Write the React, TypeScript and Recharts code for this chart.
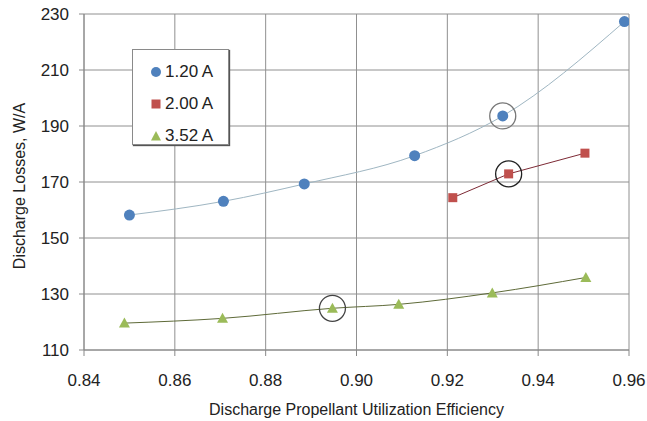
import React from 'react';
import { ComposedChart, Line, XAxis, YAxis, CartesianGrid, ReferenceDot } from 'recharts';

const seriesNames = ['1.20 A', '2.00 A', '3.52 A'];
const seriesColors = ['#4f81bd', '#c0504d', '#9bbb59'];
const trendColors = ['#9fb6c2', '#7d2a35', '#5e6a38'];

const x120 = [0.85, 0.8707, 0.8885, 0.9128, 0.9322, 0.959];
const y120 = [158.2, 163.1, 169.3, 179.4, 193.6, 227.3];
const x200 = [0.9212, 0.9335, 0.9503];
const y200 = [164.4, 172.9, 180.3];
const x352 = [0.8489, 0.8705, 0.8947, 0.9093, 0.9299, 0.9505];
const y352 = [119.6, 121.3, 124.9, 126.3, 130.4, 135.9];

const xTicks = [0.84, 0.86, 0.88, 0.9, 0.92, 0.94, 0.96];
const yTicks = [110, 130, 150, 170, 190, 210, 230];

const circled = [
  { x: 0.9322, y: 193.6, stroke: '#777777' },
  { x: 0.9335, y: 172.9, stroke: '#222222' },
  { x: 0.8947, y: 124.9, stroke: '#444444' },
];

const toData = (xs: number[], ys: number[]) => xs.map((x, i) => ({ x, y: ys[i] }));
const d120 = toData(x120, y120);
const d200 = toData(x200, y200);
const d352 = toData(x352, y352);

const CircleDot = (p: any) => (
  <circle key={`c-${p.index}`} cx={p.cx} cy={p.cy} r={5.5} fill={seriesColors[0]} />
);
const SquareDot = (p: any) => (
  <rect key={`s-${p.index}`} x={p.cx - 4.5} y={p.cy - 4.5} width={9} height={9} fill={seriesColors[1]} />
);
const TriDot = (p: any) => (
  <polygon
    key={`t-${p.index}`}
    points={`${p.cx},${p.cy - 5.5} ${p.cx - 5.5},${p.cy + 4.5} ${p.cx + 5.5},${p.cy + 4.5}`}
    fill={seriesColors[2]}
  />
);

const font = '"Liberation Sans", Arial, sans-serif';

const LegendIcon = ({ i }: { i: number }) => (
  <svg width={12} height={12} style={{ marginRight: 3 }}>
    {i === 0 && <circle cx={6} cy={6} r={5} fill={seriesColors[0]} />}
    {i === 1 && <rect x={1.5} y={1.5} width={9} height={9} fill={seriesColors[1]} />}
    {i === 2 && <polygon points="6,1 1,10.5 11,10.5" fill={seriesColors[2]} />}
  </svg>
);

const YLabel = () => (
  <text
    x={19}
    y={186}
    transform="rotate(-90, 19, 186)"
    textAnchor="middle"
    dominantBaseline="central"
    fill="#222"
    fontSize={16}
    fontFamily={font}
  >
    Discharge Losses, W/A
  </text>
);

export default function App() {
  return (
    <div style={{ position: 'absolute', left: 0, top: 0, width: 647, height: 421, background: '#fff', fontFamily: font }}>
      <ComposedChart width={647} height={421} margin={{ top: 14, right: 18, bottom: 0, left: 0 }}>
        <CartesianGrid stroke="#909090" strokeWidth={1} />
        <XAxis
          type="number"
          dataKey="x"
          domain={[0.84, 0.96]}
          ticks={xTicks}
          tickFormatter={(v: number) => v.toFixed(2)}
          allowDataOverflow
          height={71}
          stroke="#888"
          tickSize={6}
          tickMargin={18}
          tick={{ fill: '#222', fontSize: 17, fontFamily: font }}
          label={{ value: 'Discharge Propellant Utilization Efficiency', position: 'insideBottom', offset: 6, fill: '#222', fontSize: 16, fontFamily: font }}
        />
        <YAxis
          type="number"
          dataKey="y"
          domain={[110, 230]}
          ticks={yTicks}
          allowDataOverflow
          width={84}
          stroke="#888"
          tickSize={5}
          tickMargin={10}
          tick={{ fill: '#222', fontSize: 17, fontFamily: font }}
          label={<YLabel />}
        />
        <Line data={d120} dataKey="y" type="monotone" stroke={trendColors[0]} strokeWidth={1} dot={CircleDot} isAnimationActive={false} activeDot={false} />
        <Line data={d200} dataKey="y" type="linear" stroke={trendColors[1]} strokeWidth={1} dot={SquareDot} isAnimationActive={false} activeDot={false} />
        <Line data={d352} dataKey="y" type="monotone" stroke={trendColors[2]} strokeWidth={1} dot={TriDot} isAnimationActive={false} activeDot={false} />
        {circled.map((c, i) => (
          <ReferenceDot key={i} x={c.x} y={c.y} r={13} fill="none" stroke={c.stroke} strokeWidth={1.3} />
        ))}
      </ComposedChart>
      <div
        style={{
          position: 'absolute',
          left: 132,
          top: 49,
          width: 97,
          height: 96,
          background: '#fff',
          border: '1px solid #8a8a8a',
          boxShadow: '1px 1px 1px #555',
          boxSizing: 'border-box',
          padding: '6px 0 0 17px',
        }}
      >
        {seriesNames.map((n, i) => (
          <div key={n} style={{ display: 'flex', alignItems: 'center', height: 32, fontSize: 17, color: '#222' }}>
            <LegendIcon i={i} />
            <span>{n}</span>
          </div>
        ))}
      </div>
    </div>
  );
}
